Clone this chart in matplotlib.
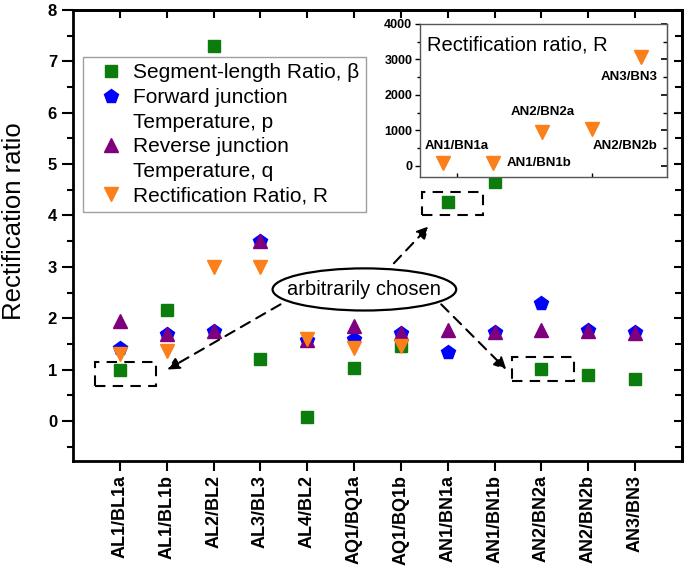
import numpy as np
import matplotlib.pyplot as plt
from matplotlib.lines import Line2D
from matplotlib.patches import Ellipse, Rectangle
from matplotlib.ticker import MultipleLocator

plt.rcParams['font.family'] = ['Liberation Sans', 'DejaVu Sans']

# data
pairs = ['AL1/BL1a', 'AL1/BL1b', 'AL2/BL2', 'AL3/BL3', 'AL4/BL2', 'AQ1/BQ1a',
         'AQ1/BQ1b', 'AN1/BN1a', 'AN1/BN1b', 'AN2/BN2a', 'AN2/BN2b', 'AN3/BN3']
beta = [1.00, 2.16, 7.30, 1.20, 0.08, 1.03, 1.45, 4.27, 4.65, 1.01, 0.89, 0.82]
p_fwd = [1.42, 1.70, 1.75, 3.50, 1.58, 1.59, 1.72, 1.35, 1.73, 2.29, 1.77, 1.73]
q_rev = [1.94, 1.70, 1.76, 3.50, 1.58, 1.85, 1.72, 1.77, 1.73, 1.77, 1.76, 1.72]
r_main = [1.30, 1.37, 3.00, 3.00, 1.60, 1.42, 1.45]   # first seven pairs only

inset_pairs = ['AN1/BN1a', 'AN1/BN1b', 'AN2/BN2a', 'AN2/BN2b', 'AN3/BN3']
r_inset = [80, 80, 970, 1035, 3080]
# label offsets (points) for the inset names
inset_offsets = [(10, 12, 'center'), (10, 0, 'left'), (0, 14, 'center'),
                 (24, -12, 'center'), (-9, -15, 'center')]

# dashed boxes (x0, y0, w, h) and arrows (start, end) in data units
boxes = [(0.47, 0.68, 1.31, 0.47), (7.45, 4.00, 1.31, 0.45), (9.38, 0.78, 1.31, 0.47)]
arrows = [((4.43, 2.27), (2.01, 1.00)), ((6.85, 3.07), (7.60, 3.79)),
          ((7.86, 2.27), (9.25, 1.00))]

green = '#0c7d0c'
blue = '#0000ff'
purple = '#7f007f'
orange = '#fb7f1a'

x = np.arange(1, len(pairs) + 1)

fig = plt.figure(figsize=(6.85, 5.66), dpi=100)
ax = fig.add_axes([0.1066, 0.1855, 0.889, 0.7968])

ax.plot(x, beta, 's', color=green, ms=8, ls='none')
ax.plot(x, p_fwd, 'p', color=blue, ms=10, ls='none')
ax.plot(x, q_rev, '^', color=purple, ms=9.5, ls='none')
ax.plot(x[:len(r_main)], r_main, 'v', color=orange, ms=9.5, ls='none')

ax.set_xlim(0, 13)
ax.set_ylim(-0.78, 8)
for s in ax.spines.values():
    s.set_linewidth(2)

ax.set_xticks(x)
ax.set_xticklabels(pairs, rotation=90, fontweight='bold', fontsize=13)
ax.tick_params(axis='x', direction='out', length=7, width=1.5, pad=3)
ax.set_yticks(np.arange(0, 9, 1))
ax.yaxis.set_minor_locator(MultipleLocator(0.5))
ax.tick_params(axis='y', which='major', direction='out', length=8, width=1.5)
ax.tick_params(axis='y', which='minor', direction='out', length=4, width=1.5)
for lab in ax.get_yticklabels():
    lab.set_fontweight('bold')
    lab.set_fontsize(12)
ax.set_ylabel('Rectification ratio', fontsize=18.5)
ax.yaxis.set_label_coords(-0.078, 0.532)

top = ax.secondary_xaxis('top')
top.set_xticks(x)
top.set_xticklabels([])
top.tick_params(direction='in', length=6, width=1.5)
top.spines['top'].set_linewidth(2)

right = ax.secondary_yaxis('right')
right.set_yticks(np.arange(0, 9, 1))
right.yaxis.set_minor_locator(MultipleLocator(0.5))
right.set_yticklabels([])
right.tick_params(which='major', direction='in', length=6, width=1.5)
right.tick_params(which='minor', direction='in', length=5, width=1.5)
right.spines['right'].set_linewidth(2)

# legend with continuation lines
blank = Line2D([], [], ls='none', marker=None)
handles = [Line2D([], [], marker='s', color=green, ms=8, ls='none'),
           Line2D([], [], marker='p', color=blue, ms=10, ls='none'), blank,
           Line2D([], [], marker='^', color=purple, ms=9.5, ls='none'), blank,
           Line2D([], [], marker='v', color=orange, ms=9.5, ls='none')]
labels = ['Segment-length Ratio, β', 'Forward junction', 'Temperature, p',
          'Reverse junction', 'Temperature, q', 'Rectification Ratio, R']
leg = ax.legend(handles, labels, loc='upper left',
                bbox_to_anchor=(83 / 685, 1 - 57 / 566), bbox_transform=fig.transFigure,
                fontsize=15, frameon=True, fancybox=False, borderaxespad=0,
                handlelength=2.1, handletextpad=0.0, borderpad=0.3, labelspacing=0.27)
leg.get_frame().set_edgecolor('#888888')
leg.get_frame().set_linewidth(1)

# annotations
for (x0, y0, w, h) in boxes:
    ax.add_patch(Rectangle((x0, y0), w, h, fill=False, ec='k', lw=1.5,
                           ls=(0, (5, 3.5))))
ax.add_patch(Ellipse((6.22, 2.56), 3.92, 0.82, fc='white', ec='k', lw=1.6, zorder=3))
ax.text(6.22, 2.56, 'arbitrarily chosen', ha='center', va='center', fontsize=14.5,
        zorder=4)
for start, end in arrows:
    ax.annotate('', xy=end, xytext=start,
                arrowprops=dict(arrowstyle='-|>', ls=(0, (5, 3.5)), lw=1.5,
                                color='k', mutation_scale=18, shrinkA=0, shrinkB=0))

# inset
ins = fig.add_axes([420 / 685, 1 - 177 / 566, 247 / 685, 153 / 566])
xi = np.arange(1, len(inset_pairs) + 1)
ins.plot(xi, r_inset, 'v', color=orange, ms=10, ls='none')
ins.set_xlim(0.53, 5.52)
ins.set_ylim(-310, 4000)
for s in ins.spines.values():
    s.set_linewidth(1)
    s.set_color('#555555')
ins.set_yticks(np.arange(0, 4001, 1000))
ins.yaxis.set_minor_locator(MultipleLocator(500))
ins.tick_params(axis='y', which='major', direction='out', length=3.5, width=1, pad=2)
ins.tick_params(axis='y', which='minor', direction='out', length=2, width=1)
for lab in ins.get_yticklabels():
    lab.set_fontweight('bold')
    lab.set_fontsize(9)
ins.set_xticks([1.27, 4.0])
ins.set_xticklabels([])
ins.tick_params(axis='x', direction='in', length=3, width=1)
ins_r = ins.secondary_yaxis('right')
ins_r.set_yticks(np.arange(0, 4001, 1000))
ins_r.yaxis.set_minor_locator(MultipleLocator(500))
ins_r.set_yticklabels([])
ins_r.tick_params(which='major', direction='in', length=4, width=1.2)
ins_r.tick_params(which='minor', direction='in', length=3, width=1)
ins_r.spines['right'].set_color('#555555')
ins.text(0.028, 0.863, 'Rectification ratio, R', transform=ins.transAxes,
         ha='left', va='center', fontsize=14.5)
for xv, yv, name, (dx, dy, ha) in zip(xi, r_inset, inset_pairs, inset_offsets):
    ins.annotate(name, (xv, yv), xytext=(dx, dy), textcoords='offset points',
                 ha=ha, va='center', fontsize=9.5, fontweight='bold')

fig.savefig('out.png', dpi=100)
